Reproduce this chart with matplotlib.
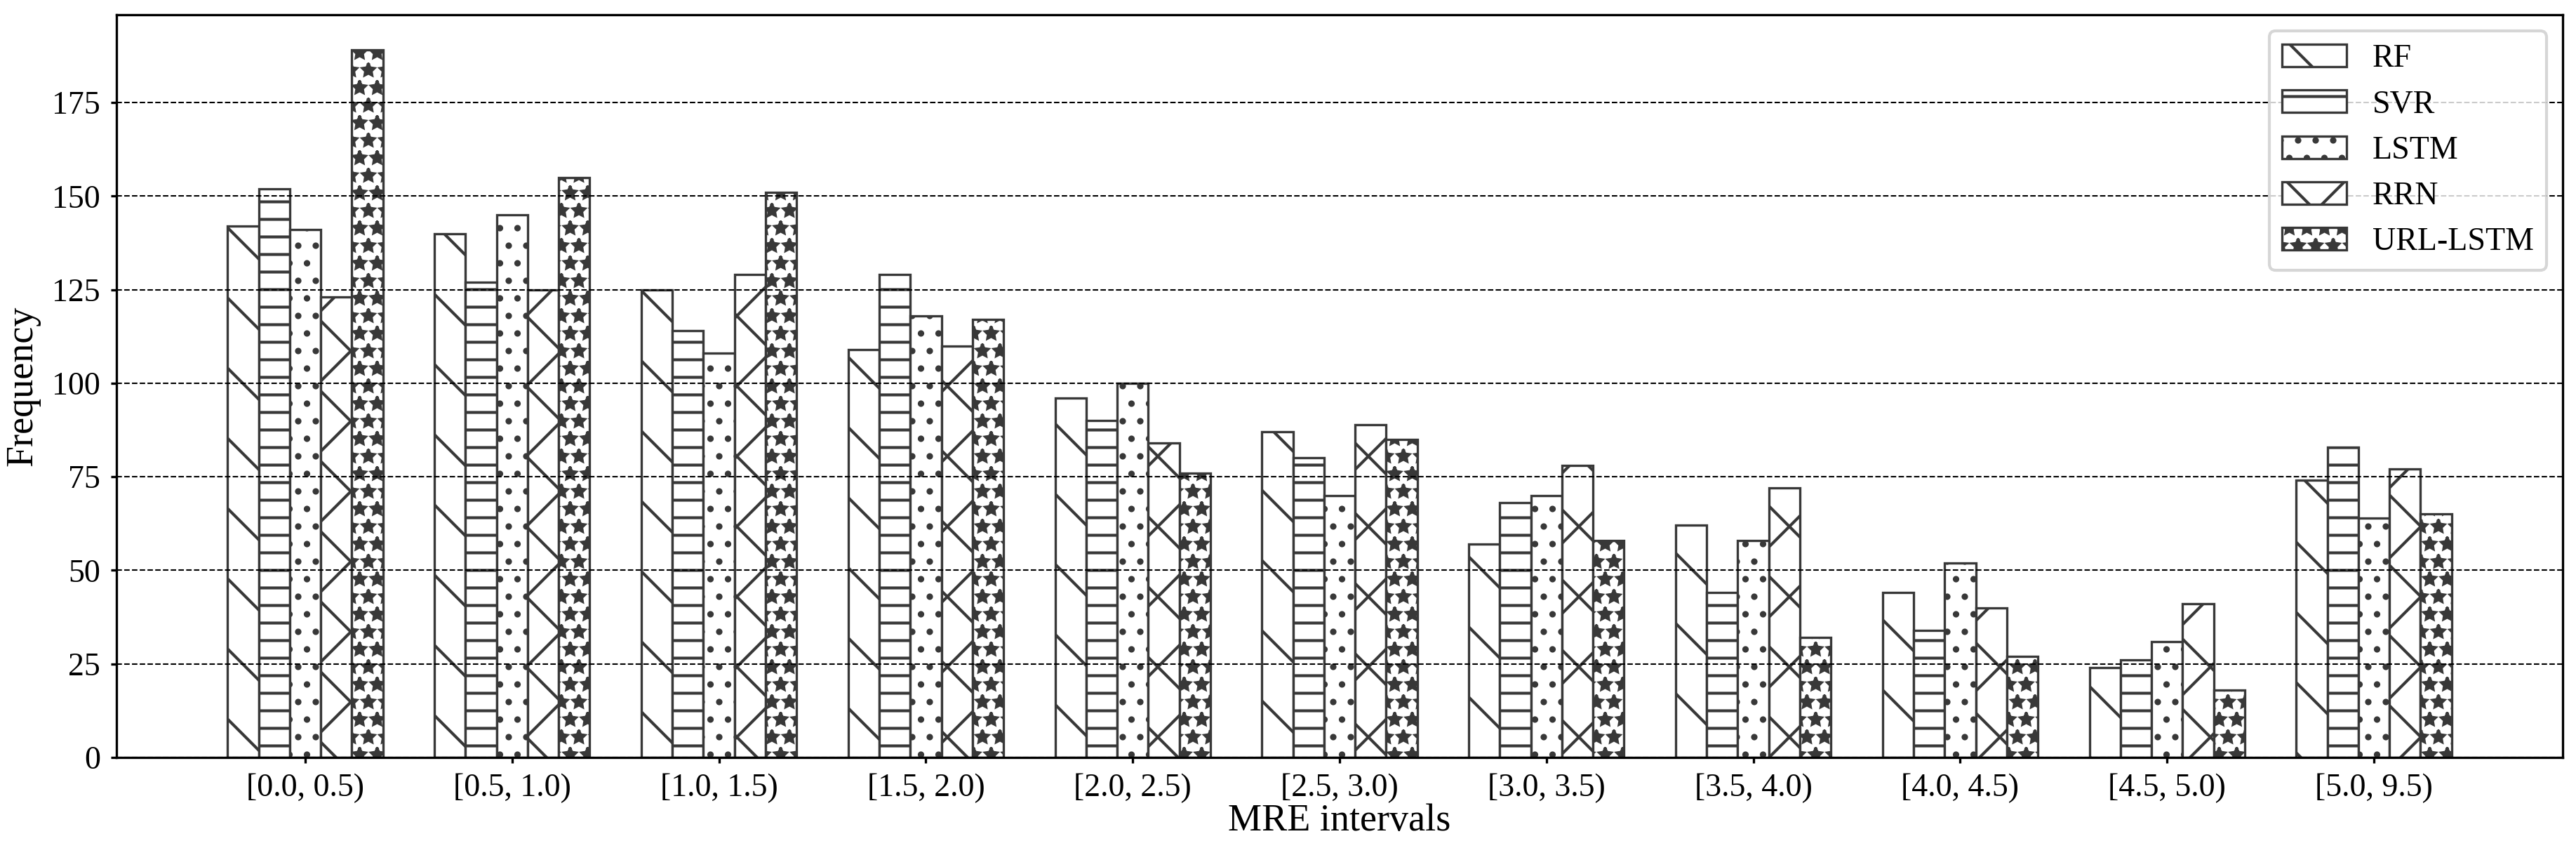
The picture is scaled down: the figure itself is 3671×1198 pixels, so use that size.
import numpy as np
import matplotlib
matplotlib.use('Agg')
import matplotlib.pyplot as plt

plt.rcParams['font.family'] = ['Liberation Serif', 'DejaVu Serif']
plt.rcParams['hatch.linewidth'] = 1.0

intervals = ['[0.0, 0.5)', '[0.5, 1.0)', '[1.0, 1.5)', '[1.5, 2.0)', '[2.0, 2.5)',
             '[2.5, 3.0)', '[3.0, 3.5)', '[3.5, 4.0)', '[4.0, 4.5)', '[4.5, 5.0)',
             '[5.0, 9.5)']
models = ['RF', 'SVR', 'LSTM', 'RRN', 'URL-LSTM']

rf = [142, 140, 125, 109, 96, 87, 57, 62, 44, 24, 74]
svr = [152, 127, 114, 129, 90, 80, 68, 44, 34, 26, 83]
lstm = [141, 145, 108, 118, 100, 70, 70, 58, 52, 31, 64]
rrn = [123, 125, 129, 110, 84, 89, 78, 72, 40, 41, 77]
url_lstm = [189, 155, 151, 117, 76, 85, 58, 32, 27, 18, 65]

series = [rf, svr, lstm, rrn, url_lstm]
hatches = ['\\', '--', '..', 'x', '**']

fig = plt.figure(figsize=(3671 / 300, 1198 / 300), dpi=300)
ax = fig.add_axes([166 / 3671, 1 - 1079 / 1198, (3652 - 166) / 3671, (1079 - 21) / 1198])

x = np.arange(len(intervals))
w = 0.15
for i, (vals, name) in enumerate(zip(series, models)):
    ax.bar(x + (i - 2) * w, vals, w, label=name, facecolor='white',
           edgecolor='#383838', hatch=hatches[i], linewidth=0.8)

ax.set_xticks(x)
ax.set_xticklabels(intervals)
ax.set_yticks(np.arange(0, 176, 25))
ax.tick_params(labelsize=11, length=2)
ax.yaxis.grid(True, linestyle='--', linewidth=0.5, color='black')
ax.set_xlabel('MRE intervals', fontsize=13, labelpad=0)
ax.set_ylabel('Frequency', fontsize=13)
ax.legend(loc='upper right', fontsize=11)

fig.savefig('out.png', dpi=300)
